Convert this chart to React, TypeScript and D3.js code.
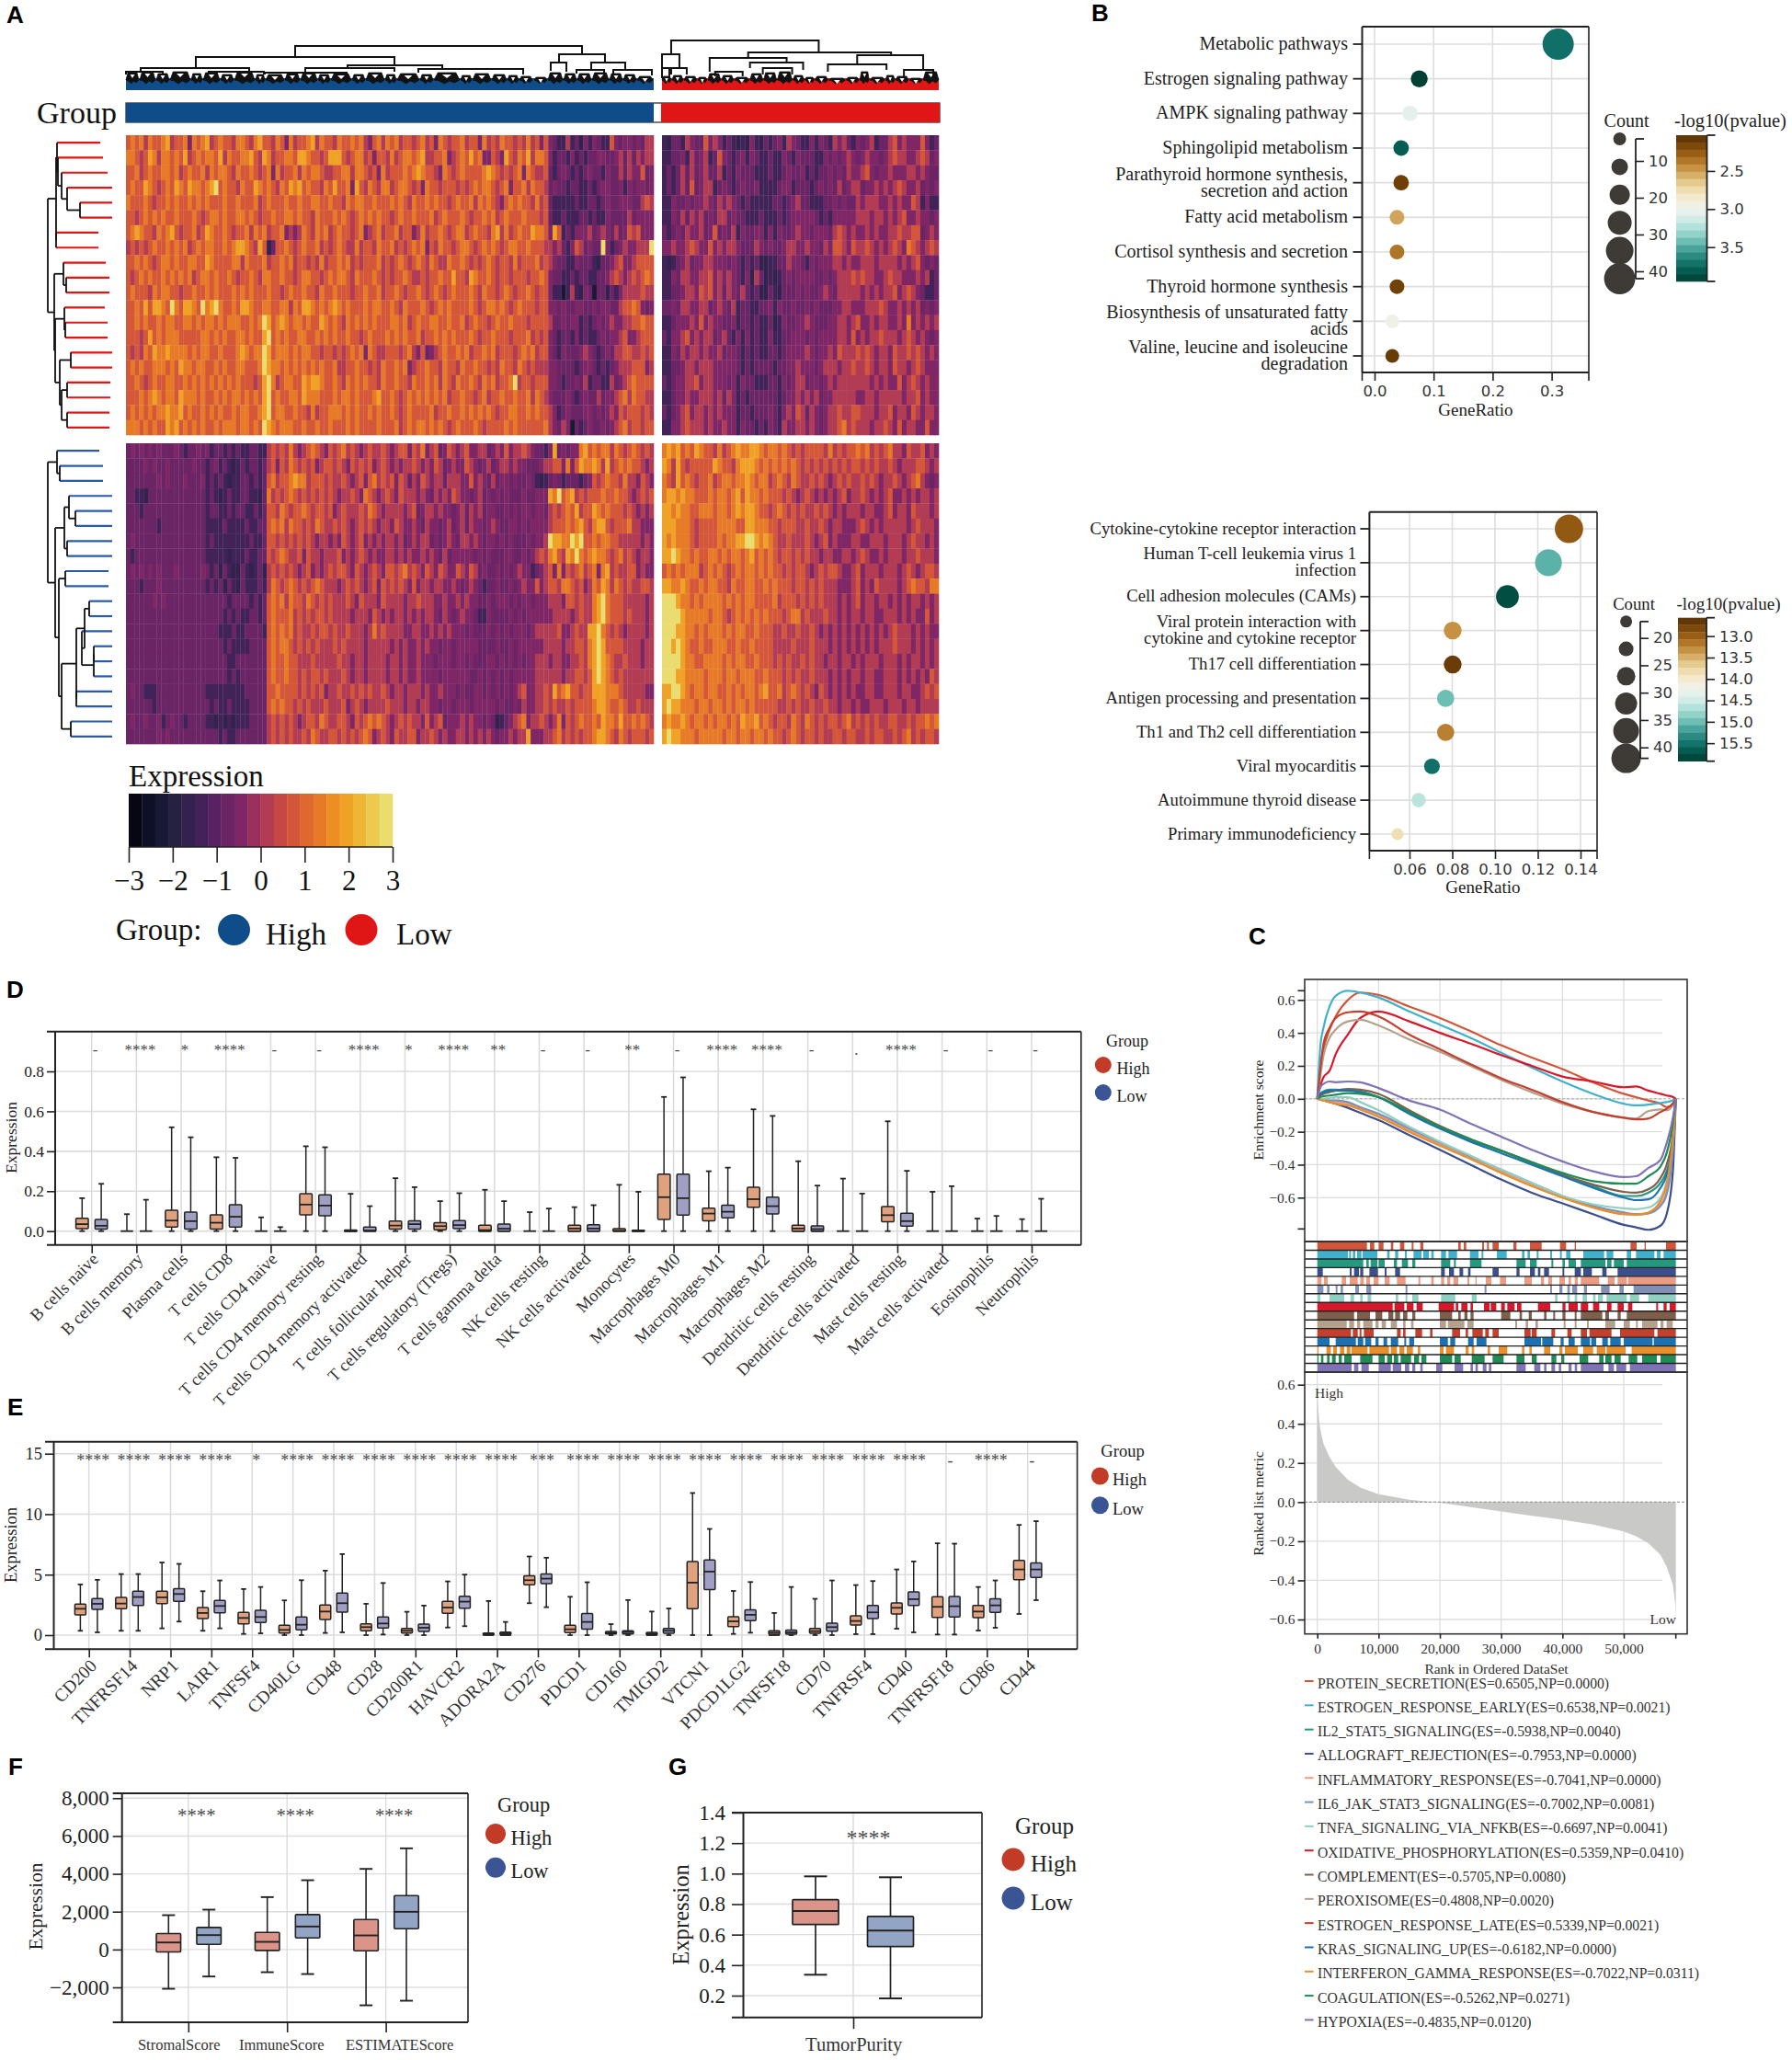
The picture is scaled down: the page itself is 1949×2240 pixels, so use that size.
import { useEffect, useRef } from 'react';
import * as d3 from 'd3';

const SERIF = 'Liberation Serif';
const SANS = 'Liberation Sans';
const DEJA = 'DejaVu Sans';

// ---- panel A: heatmap digits 0 (dark) .. 9 (pale yellow), one string per gene row
const heatLevels = [-2.4, -1.8, -1.3, -0.85, -0.4, 0.1, 0.65, 1.25, 1.95, 2.8];
const heatStops = [-3, -2.4, -2, -1.4, -1, -0.5, 0, 0.6, 1.2, 1.8, 2.3, 3];
const heatColors = ['#03030a', '#11142e', '#24213f', '#3e2359', '#5a2262', '#7b2567', '#a8355a', '#cf4f3e', '#e4702a', '#f0981f', '#eeb935', '#e9e67e'];

const topHigh = [
  '676757667856674767856766577657866576475667857665766767546757675665675647656675664756576656575646'+'432252314243226434434355',
  '776568757767685676776857667786587566776887665688865677564665756776785566745676867446548657685776'+'423324232334433453535455',
  '667567667767567667576776576676567475667576776556677577656475666767876654765676666787656567476556'+'323432323433243353544634',
  '676687656768768776789676657668767657687867665768667486576577567765647665666565676776567466757665'+'343323322323443342434434',
  '766676566767667676766676676667567666766766776676657677667666767657667676656766757676546767665756'+'322222322332343344433565',
  '665676767667666765677676677676566766776766576667676567676766567667666756766676566767567666766656'+'322322233232243333534444',
  '678766576786566756876676566757675667454576576756766567456756675664575667656775676657857567668776'+'486232444534543534656444',
  '565656766767675676776676788765861366765676675656765575665766756567674657665677656767656776676665'+'545324653433942345445559',
  '667676567767667766876666775766675667675665657566767565666756567656765765576676565676566575666756'+'543322433321334564456666',
  '656767667676767567767667656676577667665677665676776576667656566765565667668665876676566566656676'+'433223233223345654565676',
  '676665767766566766767666767676667665676676657667666566766756676566765676567666765766567656676566'+'422025214303313245555655',
  '667686887697688769789766768876677667757688767678767666767766765766676567676666765677676567666566'+'443433443343443356676434',
  '667676676776677676776767776676798678767767668767657676767666776756766776676675676656766766656666'+'533434423234345445566766',
  '666568676777666667767676677676689676766776676767667665676667676766756676767666765667666566675656'+'432332423223434456445666',
  '656576877877776767766766678767798677767677665665656767476556665675463456766767566767566656767566'+'432433345432343556655656',
  '676766777676877677667676677666798776767676767667556676656576676745667665766576676656576657656555'+'443333234432323455566645',
  '667656766776676767676767676665689756776687887667657676766576676657667675765766765767566795665666'+'443233435233225345676666',
  '666767876776877767667676776767689676677687776667677676667866765676767676756676656756676676675765'+'433343234335344567576655',
  '676767677877867667676766767766789677667665756677767676676766765676666756676676767676566776676766'+'542343334434345465666565',
  '777676766878676767667677767767698767776676676676667676666766675676776767656766676566667676666667'+'543540323433434567566566',
];
const topLow = [
  '213325433645423212142132342543224243254532434523356454446423',
  '223342534523643234243223224324333224343454345443456554456534',
  '232353534533523243332223223433423233434354456434454445545433',
  '232353634552343234334222234423332343435345534454545654453434',
  '224334344543545432322222332345332223343433545554454544652422',
  '224353545343553433222322232344444323244444555455454564454434',
  '323435445346343524334424243345443444356545445454455655663454',
  '445445654464545543335434334554454435466546556545456547654565',
  '212345344554443432323112233544324344455454455545555454564343',
  '224355445564545432415312123434444334345556565544565544454523',
  '223345546564535435323113213334343345435555545454556456543223',
  '334355445534543523322334243343343433344554445556544545453434',
  '223444546454433423323223124334454333445545644545544547454545',
  '324456454553453242423224223344434344445546454556555456545434',
  '224354554544534432323223323444454344546555656545546556565454',
  '223345545554444432323333233445444345554556556545546554565444',
  '323445564554443424332223324345534434545555555454544645654544',
  '223445445554535423233333323445454534455555445545555545564544',
  '323456455454544423323334324546535434556556655545564554654554',
  '224456555454454424332324325445545434556756555455654645544644',
];
const bottomHigh = [
  '343434343334323343423323232233225656575456765465675654565565456646574563465456445534546455654332'+'483434478676775765676565',
  '333343433433333433234232123233235646576565645665654656564565454556545465345446543453455454433345'+'566474687787585676766545',
  '333333343433343334232321223323236756678775666565565456467565646535465455355544645435344343343212'+'343233323465676657554654',
  '332213333333333333232123223322137565676565656565455654765456546555454354546544345343434333433444'+'879678565666766766545656',
  '333233333333333333233223233223236657656676566564565556576545555456345545443453545344334343443443'+'565676856687676665654545',
  '333333323333333333222232222322336767576656576556565456565455465445435443453453544345433443434444'+'566676786578865666755444',
  '343333333333333333232222222232236656565656545545465456454545545345455343454355454344343433343445'+'988779896676776655555454',
  '323333333333333333222221222322336567655646554555645456545445545454454543534444434343334433434565'+'786587976787765675654554',
  '343434343334333334323132113212315656565456454565665465456546656756546546544654653433434345442345'+'647465675674785655664544',
  '333233343333333333232313213222325765676565676555456565456465656546455455445434543233433434544645'+'665776564576875765655665',
  '333333434333333333333332333323236767576657656565556546555465555455655544544545443343444343443444'+'555466565578976665555545',
  '333333333333333333333323232233236766675656566565555455546545455454545543543454432243333434344444'+'455554565578976665655545',
  '333333333333333333333222322333326767675655656656556555457565555445544545454443433343434344434555'+'556445655889765654555545',
  '333333333333333333333323222233336767765656565556565555455555454544545443443444443333433434444445'+'555455665789866665555455',
  '333333333333333333333332233333336766766555655555655455455554554544544434443443433344343434344555'+'455445565789876556555455',
  '333333333333333333333332323333336766766565665655565455455554554544544443444444334343434344444555'+'555455665689876565555555',
  '343322233333333333222222222333336676666565656455655656565565455455545445444343344343434345644556'+'586786656688877765555544',
  '333333233333333333323223222233336767665656555655564565455556555455455443443444344444343343544556'+'565565666678876676556555',
  '343343342343323333221212122233335656565456657655665465676765456565546456344454544343123456745565'+'457465676676877686676765',
  '333333343433333333333232233333335656565565765566565656764565465566455654544554545454344545584445'+'567565656678876576566656',
];
const bottomLow = [
  '787867687665756787788767767656566665756566767565675546556454',
  '875865666668766578887676767676565656565656656565565455566545',
  '765867656675677677876775676576556565456565565654556545675434',
  '788787766676776786877676665654565454545645565454564454545545',
  '887877667776776787887665676565655656545455545544564554655545',
  '888777656666777766887776656665565565455444565454555554565554',
  '878777656666767788998787655655565456454445544555455545655454',
  '889877676677676776786767656656565545544554565445455545565554',
  '676767775676765676776767665656654565665445645554555456545665',
  '887787667677665766776676766656656565554445645465555456766577',
  '999877676777767676776666756665656565554545645545545454554545',
  '999987777767765676767676665677565556554545545544555454544645',
  '999887767677767677667666556556556545454545454545456555454544',
  '998987667667776676676666555565556555454545454545556555454545',
  '999987766777767677667666565655656554554554545554555454554545',
  '999887777677767767776676665656556555454545545544555454545465',
  '889987677677667676776786675676565465454545445544555455445656',
  '898877767767767677676666655656556556554554544555455545545555',
  '787787677676776768778676566576576565665675656565566556566767',
  '898877767777767767767767665676566565566566556566556567565665',
];

// dendrogram branches: [left, right, height, left drop, right drop]
const highBranches = [
  [184, 496, 48, 36, 39], [76, 292, 36, 24, 27], [471, 521, 39, 30, 30], [16, 134, 24, 19, 20],
  [241, 344, 27, 23, 23], [195, 292, 24, 20, 20], [462, 479, 30, 21, 20], [506, 543, 30, 22, 22],
  [151, 240, 19, 17, 17], [318, 432, 23, 19, 17], [0, 40, 20, 17, 17], [90, 150, 20, 17, 17],
  [530, 572, 22, 17, 16], [490, 520, 22, 18, 18],
];
const lowBranches = [
  [10, 171, 54, 39, 41], [0, 19, 39, 24, 24], [94, 250, 41, 35, 38], [52, 136, 35, 20, 30],
  [213, 285, 38, 28, 22], [181, 245, 28, 20, 22], [96, 154, 30, 24, 22], [10, 27, 24, 17, 17],
  [0, 8, 24, 13, 13], [264, 296, 22, 14, 12], [58, 88, 20, 15, 15], [110, 142, 24, 17, 17],
];
// small fans along the bottom of the trees: [start, width, height]
const highTwigs = [
  [0,14,19],[15,17,20],[33,14,18],[48,22,20],[71,12,18],[84,18,19],[103,14,17],[118,22,21],[141,10,17],[152,20,17],[173,16,18],[190,18,19],[209,13,17],[223,22,18],[246,14,17],[261,20,19],[282,12,17],[295,24,18],[320,14,17],[335,28,19],[364,12,16],[377,20,18],[398,16,17],[415,12,16],[428,14,15],[444,14,14],[459,16,19],[476,14,18],[491,15,18],[507,18,19],[526,14,18],[541,14,17],[556,17,15],
];
const lowTwigs = [
  [0,10,15],[11,12,16],[24,14,15],[39,10,14],[50,14,18],[65,13,16],[79,16,14],[96,14,18],[111,14,19],[126,16,20],[143,12,16],[156,10,14],[167,14,15],[182,18,13],[201,14,14],[216,10,20],[227,16,14],[244,10,16],[255,14,15],[270,14,13],[285,17,20],
];

// row trees: [branch position, child, child]; a leaf is its end position
type RowNode = number | [number, RowNode, RowNode];
const rowTreeTop: RowNode = [0,
  [9, [10, 57, [11, 60, [15, 65, [21, 70, [35, 70, 70]]]]], [9, 55, 55]],
  [7, [17, 63, [20, 67, 67]], [8, [18, 62, [19, 65, 65]], [13, [25, 70, 70], [15, [21, 68, 68], [21, 67, 67]]]]],
];
const rowTreeBottom: RowNode = [0,
  [10, 56, [13, 60, 60]],
  [8, [18, [23, 70, [30, 70, 70]], [21, 70, 70]],
    [12, [19, 66, 66], [15, [31, [40, [45, 70, 70], [37, 70, [50, [50, 70, 70], 70]]], [31, 70, 70]], [25, 70, 70]]]],
];

const legendTicks = [-3, -2, -1, 0, 1, 2, 3];

// ---- panel B: enrichment dots
const b1Terms = [['Metabolic pathways'], ['Estrogen signaling pathway'], ['AMPK signaling pathway'], ['Sphingolipid metabolism'], ['Parathyroid hormone synthesis,', 'secretion and action'], ['Fatty acid metabolism'], ['Cortisol synthesis and secretion'], ['Thyroid hormone synthesis'], ['Biosynthesis of unsaturated fatty', 'acids'], ['Valine, leucine and isoleucine', 'degradation']];
const b1Ratio = [0.311, 0.0757, 0.06, 0.045, 0.045, 0.038, 0.038, 0.038, 0.03, 0.03];
const b1Count = [42, 9, 7, 7, 7, 6, 6, 6, 5, 5];
const b1Pval = [3.72, 3.93, 3.05, 3.8, 2.12, 2.52, 2.36, 2.13, 2.98, 2.1];
const b2Terms = [['Cytokine-cytokine receptor interaction'], ['Human T-cell leukemia virus 1', 'infection'], ['Cell adhesion molecules (CAMs)'], ['Viral protein interaction with', 'cytokine and cytokine receptor'], ['Th17 cell differentiation'], ['Antigen processing and presentation'], ['Th1 and Th2 cell differentiation'], ['Viral myocarditis'], ['Autoimmune thyroid disease'], ['Primary immunodeficiency']];
const b2Ratio = [0.1346, 0.125, 0.1058, 0.0802, 0.0802, 0.0769, 0.0769, 0.0705, 0.0643, 0.0544];
const b2Count = [43, 40, 33, 25, 25, 24, 24, 22, 20, 17];
const b2Pval = [12.95, 15.08, 15.78, 13.32, 12.7, 15.0, 13.22, 15.52, 14.62, 13.85];

// ---- panel C: GSEA
const esRanks = [0, 500, 1000, 2000, 3000, 5000, 7000, 10000, 15000, 20000, 25000, 30000, 35000, 40000, 45000, 50000, 52000, 54000, 56000, 57000, 58000, 58500];
const gseaNames = ['PROTEIN_SECRETION(ES=0.6505,NP=0.0000)', 'ESTROGEN_RESPONSE_EARLY(ES=0.6538,NP=0.0021)', 'IL2_STAT5_SIGNALING(ES=-0.5938,NP=0.0040)', 'ALLOGRAFT_REJECTION(ES=-0.7953,NP=0.0000)', 'INFLAMMATORY_RESPONSE(ES=-0.7041,NP=0.0000)', 'IL6_JAK_STAT3_SIGNALING(ES=-0.7002,NP=0.0081)', 'TNFA_SIGNALING_VIA_NFKB(ES=-0.6697,NP=0.0041)', 'OXIDATIVE_PHOSPHORYLATION(ES=0.5359,NP=0.0410)', 'COMPLEMENT(ES=-0.5705,NP=0.0080)', 'PEROXISOME(ES=0.4808,NP=0.0020)', 'ESTROGEN_RESPONSE_LATE(ES=0.5339,NP=0.0021)', 'KRAS_SIGNALING_UP(ES=-0.6182,NP=0.0000)', 'INTERFERON_GAMMA_RESPONSE(ES=-0.7022,NP=0.0311)', 'COAGULATION(ES=-0.5262,NP=0.0271)', 'HYPOXIA(ES=-0.4835,NP=0.0120)'];
const gseaColors = ['#d2553a', '#41b1cb', '#24997f', '#3a4f8c', '#ec9c82', '#7f8fb6', '#8fd0c2', '#d9172b', '#7d5f4b', '#b4a18c', '#c2402d', '#1b72b2', '#e78e2d', '#1f8b55', '#8072b6'];
const gseaCurves = [
  [0,.20,.30,.42,.50,.60,.645,.63,.56,.49,.41,.325,.25,.18,.10,.03,.01,-.01,-.03,-.05,-.03,0],
  [0,.32,.43,.56,.625,.655,.645,.615,.53,.45,.37,.28,.19,.105,.03,-.03,-.04,-.035,-.025,-.02,-.01,0],
  [0,.03,.045,.055,.055,.05,.045,.01,-.09,-.18,-.25,-.315,-.39,-.46,-.53,-.59,-.59,-.57,-.51,-.44,-.28,0],
  [0,-.005,-.01,-.02,-.03,-.055,-.085,-.13,-.22,-.31,-.40,-.49,-.57,-.635,-.70,-.765,-.78,-.795,-.77,-.70,-.45,0],
  [0,-.005,-.01,-.02,-.02,-.03,-.06,-.10,-.19,-.275,-.36,-.44,-.52,-.60,-.66,-.70,-.705,-.695,-.64,-.56,-.30,0],
  [0,-.003,-.005,-.01,-.01,-.02,-.05,-.09,-.18,-.265,-.35,-.43,-.51,-.59,-.65,-.69,-.70,-.695,-.65,-.58,-.32,0],
  [0,-.002,0,.005,.01,.01,-.02,-.07,-.17,-.26,-.345,-.43,-.51,-.59,-.64,-.665,-.67,-.66,-.60,-.50,-.25,0],
  [0,.08,.13,.17,.27,.39,.49,.53,.47,.40,.335,.265,.2,.135,.105,.07,.075,.05,.03,.02,.012,0],
  [0,.02,.03,.04,.05,.06,.055,.03,-.07,-.165,-.245,-.315,-.385,-.46,-.52,-.565,-.57,-.55,-.48,-.40,-.22,0],
  [0,.14,.26,.37,.42,.47,.48,.445,.36,.285,.2,.115,.04,-.03,-.08,-.115,-.12,-.075,-.065,-.07,-.04,0],
  [0,.18,.33,.43,.49,.525,.53,.50,.39,.30,.21,.125,.055,-.02,-.08,-.115,-.125,-.12,-.08,-.06,-.03,0],
  [0,.03,.04,.05,.05,.05,.04,.01,-.09,-.18,-.26,-.33,-.40,-.47,-.54,-.6,-.615,-.61,-.54,-.46,-.25,0],
  [0,-.005,-.01,-.02,-.03,-.04,-.065,-.11,-.2,-.285,-.365,-.45,-.53,-.60,-.66,-.7,-.702,-.69,-.62,-.52,-.25,0],
  [0,.01,.015,.02,.025,.035,.03,.01,-.08,-.17,-.245,-.315,-.385,-.45,-.5,-.515,-.515,-.47,-.41,-.33,-.15,0],
  [0,.07,.09,.105,.10,.105,.10,.065,-.01,-.065,-.15,-.23,-.31,-.38,-.44,-.475,-.47,-.42,-.37,-.27,-.12,0],
];
// hit intervals per gene set, in thousands of ranks: start, end, start, end ...
const gseaHits = [
  [0,8.1,8.6,9.3,10,10.8,12,12.4,13.5,14.2,15.4,15.7,16.8,17.3,23,23.4,23.9,24.3,26.9,27.2,27.7,28,28.6,29.6,32,32.5,34.7,36.6,39.6,40.6,42,42.2,51.1,52.1,53.4,53.6,56.9,58.5],
  [0,5,5.2,5.5,5.8,6.2,6.5,7.2,7.4,9.8,11.4,11.8,12.7,13.2,14.3,14.6,15.7,17,17.3,18.2,18.6,19,20.2,21,21.4,22.8,24.9,26.3,26.8,27.1,29.3,30.9,33.4,33.8,34.3,34.7,35.8,36.1,38,38.3,39.6,39.9,40.6,41.3,43.4,46.8,47.2,48.3,50.5,51.2,52,55,55.4,56,56.5,58.5],
  [0,7.5,8,8.4,8.7,9.8,10,11,12.5,13,13.8,14.8,15.5,16,20.2,21.7,22.3,22.6,24.9,26.8,32.5,34,34.7,35.8,38.2,38.5,40,40.4,41,42.2,43,47,47.3,48,48.4,50,50.5,58.5],
  [0,0.9,5.3,5.6,6,6.8,7,7.5,8.5,9.9,11,11.3,12.7,13.5,20.2,20.8,21.5,22.3,23.2,23.8,24.6,25,28.6,29.6,32.5,33,34.7,35.5,36,36.4,37,37.8,40,40.3,42,43,43.4,44.8,46.5,47.2,49,58.5],
  [0,0.7,1.1,1.7,4,4.7,5.3,6.6,7,7.6,8,8.6,9.2,10,11,11.8,13,14.4,16.5,16.8,18.6,19,20.2,20.7,21.2,21.7,22.2,23,24.5,24.8,25.8,26,27.5,28.4,29.8,30.8,33.8,35,36.5,37,37.7,38.3,39.5,40.4,41,41.4,42,42.5,43,46,47.4,48.5,49,50.5,50.7,58.5],
  [0,1,1.6,2,3,3.3,3.8,4.2,6.2,6.8,8,8.8,14.4,14.7,27.3,27.6,38,38.3,39.5,40,40.8,41.2,41.6,42.4,43.5,44,46.3,47.7,49.3,50,51.6,58.5],
  [0,0.5,2,4.4,5.4,6,7,7.4,8.2,8.8,12.8,13.2,14.4,14.7,15.5,16.5,20.2,22.5,25.2,26,38.8,39.2,40.8,41.2,42,42.4,43.3,44,45,45.4,45.8,46.6,47.2,50.5,51,52.5,54,58.5],
  [0,12.3,12.6,14.2,14.6,15.7,16.2,17.2,19.8,22.3,22.6,23,23.5,24.5,25,25.4,27.2,28.1,28.3,29.2,30,30.6,31,32.2,32.6,33.3,36,38,40,40.5,41,42.5,43,44.2,45,46,47.3,48,49,50,50.7,51.4,55.3,55.6,56.5,57,57.5,58.5],
  [0,6,6.5,8.6,9.5,10.6,11.6,12.4,12.7,13.5,14,14.7,15.5,16,20,22,23,23.4,24,24.5,25,25.5,30,31.5,33,33.4,34.5,35,37,37.4,38.5,38.8,40,40.5,42,42.3,43,46.5,47,47.6,49,49.5,50.5,58.5],
  [0,4.8,5.2,6,6.5,7,7.5,9,9.5,10,10.5,11.2,12,13,14,14.4,15.3,15.7,20,21,21.3,24,24.5,25.5,32.3,32.6,34,34.4,35.6,36,40.2,40.5,42,42.3,44,44.3,47,48.6,50,51,52,52.3,53,55.5,56,56.5,57,58],
  [0,5.5,5.8,6.6,6.9,7.2,7.6,9.2,13,13.6,14,14.4,16,17.1,18.4,18.8,22,23.3,24.2,24.6,25.3,27,27.4,28,28.6,29.6,33.8,34.8,35,35.8,38.2,38.8,40.8,41.5,43,44,44.4,48,49.4,55,55.5,58.5],
  [0,2,3,6.3,6.6,7.5,7.8,8.8,9.5,10,10.8,11.4,12,13.2,14.2,14.5,15,15.8,20,21.3,21.7,22.5,24.6,25.5,26,27.6,33.8,36.5,36.7,38.5,39.7,40.2,41,42,43,44.5,44.7,45.5,46.5,47.4,47.8,49.5,50,54.7,54.9,58.5],
  [0,0.2,1.5,2.2,2.6,3.2,3.7,4.4,4.8,5.4,5.6,8.2,8.5,11.7,12,13,13.4,14.2,14.6,15.6,16.4,16.8,20,20.6,21,22.3,24.2,24.7,25.2,25.6,27.8,28.2,29.6,31,33.4,33.8,34.6,35,37,38,39.5,40,40.4,42.5,43.4,45,45.6,47,47.2,50.3,51.3,58.5],
  [0,0.2,0.6,1,1.6,2,2.4,3,3.5,4,4.4,5.6,7,9,10,11,11.4,12.2,12.5,13.2,13.6,15.3,15.8,16.6,17,17.8,20,22,22.4,23.4,25.2,27.3,28.6,30.4,32.5,33.8,35,35.8,38.2,39,39.8,40.3,42.8,44.2,46,46.7,47,48,48.5,49.5,50.8,52.2,53,55.4,56,58.5],
  [0,5.6,6,6.7,7.2,8.4,10,12,12.3,13.7,14.3,15,15.5,16,16.8,17.2,19.4,20.4,22.4,23.8,25,25.4,25.8,26.2,27,27.6,28,28.4,32.5,34,35.4,36.4,37,37.4,38.2,38.8,39.4,39.8,41,41.5,42,42.4,43,46.7,47.5,48.4,48.8,50.4,51,58.5],
];
const metricRanks = [0, 100, 300, 500, 1000, 2000, 3000, 5000, 7000, 10000, 15000, 20000, 25000, 30000, 35000, 40000, 45000, 50000, 52000, 54000, 56000, 57000, 58000, 58400, 58500];
const metricValues = [0.6, 0.5, 0.42, 0.37, 0.3, 0.23, 0.18, 0.115, 0.075, 0.04, 0.012, -0.003, -0.025, -0.048, -0.07, -0.09, -0.115, -0.15, -0.175, -0.21, -0.27, -0.33, -0.42, -0.52, -0.6];

// ---- boxplots: [low whisker, q1, median, q3, high whisker]
type Five = number[];
const dCats = ['B cells naive', 'B cells memory', 'Plasma cells', 'T cells CD8', 'T cells CD4 naive', 'T cells CD4 memory resting', 'T cells CD4 memory activated', 'T cells follicular helper', 'T cells regulatory (Tregs)', 'T cells gamma delta', 'NK cells resting', 'NK cells activated', 'Monocytes', 'Macrophages M0', 'Macrophages M1', 'Macrophages M2', 'Dendritic cells resting', 'Dendritic cells activated', 'Mast cells resting', 'Mast cells activated', 'Eosinophils', 'Neutrophils'];
const dSig = ['-', '****', '*', '****', '-', '-', '****', '*', '****', '**', '-', '-', '**', '-', '****', '****', '-', '.', '****', '-', '-', '-'];
const dHigh: Five[] = [[0,.012,.035,.064,.165],[0,0,0,0,.085],[0,.02,.053,.105,.52],[0,.01,.042,.082,.37],[0,0,0,0,.069],[0,.082,.133,.188,.425],[0,0,0,.005,.187],[0,.01,.028,.05,.265],[0,.007,.025,.042,.15],[0,0,.005,.03,.207],[0,0,0,0,.095],[0,0,.013,.03,.12],[0,0,.002,.012,.232],[0,.058,.17,.285,.672],[0,.052,.088,.115,.30],[0,.12,.16,.22,.61],[0,0,.013,.03,.35],[0,0,0,0,.263],[0,.047,.08,.123,.55],[0,0,0,0,.197],[0,0,0,0,.063],[0,0,0,0,.06]];
const dLow: Five[] = [[0,.01,.027,.058,.237],[0,0,0,0,.157],[0,.01,.05,.095,.47],[0,.02,.072,.132,.367],[0,0,0,0,.02],[0,.077,.128,.182,.42],[0,0,.003,.02,.125],[0,.01,.035,.052,.22],[0,.012,.03,.053,.19],[0,0,.012,.035,.15],[0,0,0,0,.113],[0,0,.013,.032,.13],[0,0,0,.004,.197],[0,.08,.165,.285,.77],[0,.066,.097,.13,.318],[0,.086,.125,.17,.577],[0,0,.01,.026,.228],[0,0,0,0,.188],[0,.025,.05,.09,.302],[0,0,0,0,.225],[0,0,0,0,.076],[0,0,0,0,.162]];

const eCats = ['CD200', 'TNFRSF14', 'NRP1', 'LAIR1', 'TNFSF4', 'CD40LG', 'CD48', 'CD28', 'CD200R1', 'HAVCR2', 'ADORA2A', 'CD276', 'PDCD1', 'CD160', 'TMIGD2', 'VTCN1', 'PDCD1LG2', 'TNFSF18', 'CD70', 'TNFRSF4', 'CD40', 'TNFRSF18', 'CD86', 'CD44'];
const eSig = ['****', '****', '****', '****', '*', '****', '****', '****', '****', '****', '****', '***', '****', '****', '****', '****', '****', '****', '****', '****', '****', '-', '****', '-'];
const eHigh: Five[] = [[.36,1.68,2.18,2.56,4.19],[.36,2.18,2.61,3.12,5.05],[.56,2.61,3.12,3.63,6.0],[.36,1.37,1.83,2.28,3.63],[.1,.94,1.42,1.88,3.81],[0,.18,.43,.81,2.87],[.18,1.29,1.95,2.49,5.33],[0,.36,.66,.94,2.59],[0,.18,.36,.56,1.93],[.63,1.8,2.28,2.79,4.44],[0,.03,.1,.18,2.82],[2.64,4.16,4.54,4.9,6.5],[0,.2,.48,.81,3.17],[0,.1,.2,.3,.91],[0,.03,.13,.23,1.95],[0,2.18,4.34,6.09,11.75],[.1,.71,1.14,1.52,3.65],[0,.05,.2,.36,1.83],[0,.15,.33,.56,3.0],[.08,.84,1.17,1.6,4.14],[.53,1.75,2.26,2.66,5.43],[.05,1.47,2.34,3.17,7.59],[.38,1.45,1.95,2.46,3.98],[1.75,4.59,5.43,6.17,9.11]];
const eLow: Five[] = [[.23,2.13,2.59,3.02,4.57],[.36,2.46,3.15,3.63,5.05],[1.12,2.79,3.4,3.83,5.89],[.56,1.85,2.41,2.87,4.52],[.15,1.04,1.5,2.06,3.98],[0,.43,.86,1.5,4.54],[.23,1.9,2.64,3.48,6.7],[.05,.58,.96,1.5,4.31],[0,.3,.61,.91,2.44],[.74,2.23,2.77,3.22,5.0],[0,.03,.15,.25,1.09],[2.31,4.26,4.67,5.05,6.4],[0,.5,1.09,1.78,4.37],[0,.1,.25,.36,2.9],[0,.15,.36,.56,2.2],[0,3.76,5.25,6.22,8.78],[.2,1.19,1.68,2.1,4.39],[0,.08,.23,.41,3.98],[0,.33,.66,.99,4.52],[.08,1.37,1.88,2.46,4.47],[.23,2.46,2.97,3.58,6.09],[.05,1.5,2.39,3.2,7.56],[.61,1.88,2.46,3.0,4.52],[2.89,4.77,5.43,5.96,9.42]];

const fCats = ['StromalScore', 'ImmuneScore', 'ESTIMATEScore'];
const fSig = ['****', '****', '****'];
const fHigh: Five[] = [[-2075,-130,373,843,1815],[-1200,-50,405,908,2770],[-2950,-65,745,1588,4262]];
const fLow: Five[] = [[-1426,275,762,1167,2107],[-1297,616,1215,1848,3663],[-2707,1102,1994,2852,5348]];
const gCats = ['TumorPurity'];
const gSig = ['****'];
const gHigh: Five[] = [[.337,.666,.755,.829,.982]];
const gLow: Five[] = [[.182,.522,.626,.719,.976]];

const panelLetters: [string, number, number][] = [['A', 7, 25], ['B', 1187, 23], ['C', 1358, 1027], ['D', 7, 1085], ['E', 8, 1539], ['F', 9, 1930], ['G', 727, 1930]];

type Sel = d3.Selection<any, any, any, any>;

function txt(g: Sel, x: number, y: number, s: string, size: number, opt: any = {}) {
  return g.append('text').attr('x', x).attr('y', y).text(s)
    .attr('font-family', opt.font ?? SERIF).attr('font-size', size)
    .attr('fill', opt.fill ?? '#222')
    .attr('font-weight', opt.weight ?? 'normal')
    .attr('text-anchor', opt.anchor ?? 'start')
    .attr('dominant-baseline', opt.base ?? 'central');
}

function vtxt(g: Sel, x: number, y: number, s: string, size: number) {
  g.append('text').attr('transform', `translate(${x},${y}) rotate(-90)`).text(s)
    .attr('font-family', SERIF).attr('font-size', size).attr('fill', '#222')
    .attr('text-anchor', 'middle').attr('dominant-baseline', 'central');
}

function frame(g: Sel, l: number, r: number, t: number, b: number, ext: number, w = 2) {
  const line = (x1: number, y1: number, x2: number, y2: number, sw = w) =>
    g.append('line').attr('x1', x1).attr('y1', y1).attr('x2', x2).attr('y2', y2).attr('stroke', '#222').attr('stroke-width', sw);
  line(l - ext, t, r, t); line(l - ext, b, r, b); line(l, t, l, b); line(r, t, r, b, 1.6);
}

function styleAxis(a: Sel, size: number, font = SERIF, col = '#222') {
  a.select('.domain').remove();
  a.selectAll('line').attr('stroke', '#222').attr('stroke-width', 1.6);
  a.selectAll('text').attr('font-family', font).attr('font-size', size).attr('fill', col);
}

function heatBlock(g: Sel, rows: string[], x0: number, x1: number, y0: number, y1: number, color: (v: number) => string) {
  const rowY = d3.scaleBand<number>().domain(d3.range(rows.length)).range([y0, y1]);
  rows.forEach((row, i) => {
    const colX = d3.scaleBand<number>().domain(d3.range(row.length)).range([x0, x1]);
    g.append('g').selectAll('rect').data(row.split('')).enter().append('rect')
      .attr('x', (_, j) => colX(j)!).attr('y', rowY(i)!)
      .attr('width', colX.bandwidth() + 0.3).attr('height', rowY.bandwidth() + 0.3)
      .attr('fill', (d) => color(heatLevels[+d]));
  });
}

function colTree(g: Sel, branches: number[][], twigs: number[][], x0: number, x1: number, domainMax: number, col: string) {
  const x = d3.scaleLinear().domain([0, domainMax]).range([x0, x1]);
  const y = d3.scaleLinear().domain([0, 55]).range([98, 43]);
  g.append('rect').attr('x', x0).attr('y', y(13)).attr('width', x1 - x0).attr('height', y(0) - y(13)).attr('fill', col);
  twigs.forEach(([s, w, h]) => {
    // a clump of leaves: black hump with a jagged foot and a small white gap under its top
    const a = x(s), b = x(s + w), yt = y(Math.min(h, 20)), foot = y(8);
    const hump = `M${a},${y(11)}L${a + 0.15 * (b - a)},${yt}L${a + 0.85 * (b - a)},${yt}L${b},${y(11)}L${a + 0.8 * (b - a)},${foot}L${a + 0.6 * (b - a)},${y(10)}L${a + 0.4 * (b - a)},${y(7)}L${a + 0.2 * (b - a)},${y(10)}Z`;
    g.append('path').attr('d', hump).attr('fill', '#111').attr('stroke', '#111').attr('stroke-width', 0.8);
    g.append('path').attr('d', `M${a + 0.32 * (b - a)},${yt + 2}L${a + 0.68 * (b - a)},${yt + 2}L${(a + b) / 2},${yt + 6}Z`).attr('fill', '#fff');
  });
  branches.forEach(([l, r, h, dl, dr]) => {
    g.append('path').attr('d', `M${x(l)},${y(dl)}L${x(l)},${y(h)}L${x(r)},${y(h)}L${x(r)},${y(dr)}`)
      .attr('fill', 'none').attr('stroke', '#111').attr('stroke-width', 2);
  });
}

function rowTree(g: Sel, tree: RowNode, x0: number, y0: number, y1: number, col: string) {
  const x = d3.scaleLinear().domain([0, 70]).range([x0, x0 + 70]);
  const n = 20;
  const y = d3.scaleBand<number>().domain(d3.range(n)).range([y0, y1]);
  let leaf = 0;
  const walk = (node: RowNode, parent: number): number => {
    if (typeof node === 'number') {
      const yy = y(leaf++)! + y.bandwidth() / 2;
      g.append('line').attr('x1', x(parent)).attr('x2', x(node)).attr('y1', yy).attr('y2', yy).attr('stroke', col).attr('stroke-width', 2.2);
      return yy;
    }
    const [p, a, b] = node;
    const ya = walk(a, p);
    const yb = walk(b, p);
    g.append('line').attr('x1', x(p)).attr('x2', x(p)).attr('y1', ya).attr('y2', yb).attr('stroke', '#111').attr('stroke-width', 1.8);
    const m = (ya + yb) / 2;
    g.append('line').attr('x1', x(parent)).attr('x2', x(p)).attr('y1', m).attr('y2', m).attr('stroke', '#111').attr('stroke-width', 1.8);
    return m;
  };
  walk(tree, (tree as any)[0]);
}

function dotPanel(svg: Sel, p: any) {
  const g = svg.append('g');
  const x = d3.scaleLinear().domain(p.xDomain).range(p.xRange);
  const y = d3.scalePoint<number>().domain(d3.range(p.terms.length)).range(p.yRange);
  const grid = '#dedede';
  p.xTicks.forEach((t: number) => g.append('line').attr('x1', x(t)).attr('x2', x(t)).attr('y1', p.top).attr('y2', p.bottom).attr('stroke', grid).attr('stroke-width', 1.6));
  p.terms.forEach((_: any, i: number) => g.append('line').attr('x1', p.left).attr('x2', p.right).attr('y1', y(i)!).attr('y2', y(i)!).attr('stroke', grid).attr('stroke-width', 1.6));
  frame(g, p.left, p.right, p.top, p.bottom, 0);
  const ax = g.append('g').attr('transform', `translate(0,${p.bottom})`).call(d3.axisBottom(x).tickValues(p.xTicks).tickFormat(d3.format(p.xFmt) as any).tickSize(9).tickPadding(5) as any);
  styleAxis(ax, 16.5, DEJA, '#333');
  [p.left, p.right].forEach((v: number) => g.append('line').attr('x1', v).attr('x2', v).attr('y1', p.bottom).attr('y2', p.bottom + 9).attr('stroke', '#222').attr('stroke-width', 1.6));
  p.terms.forEach((t: string[], i: number) => {
    g.append('line').attr('x1', p.left - 10).attr('x2', p.left).attr('y1', y(i)!).attr('y2', y(i)!).attr('stroke', '#222').attr('stroke-width', 1.8);
    t.forEach((ln, k) => txt(g, p.labelX, y(i)! - 1 + (t.length > 1 ? (k === 0 ? -9 : 9) : 0), ln, p.labelFont, { anchor: 'end' }));
  });
  const cScale = d3.scaleLinear().domain(p.cDomain).range([0, 1]);
  const color = (v: number) => d3.interpolateBrBG(cScale(v));
  const r = d3.scaleSqrt().domain(p.countDomain).range(p.rRange);
  g.selectAll('circle.dot').data(p.ratio as number[]).enter().append('circle').attr('class', 'dot')
    .attr('cx', (d) => x(d)).attr('cy', (_, i) => y(i)!).attr('r', (_, i) => r(p.count[i]))
    .attr('fill', (_, i) => color(p.pval[i]));
  txt(g, p.xLabelX, p.xLabelY - 1, 'GeneRatio', 19, { anchor: 'middle' });

  // size legend
  txt(g, p.countX, p.legTop - 1, 'Count', p.labelFont, { anchor: 'middle' });
  txt(g, p.pX, p.legTop - 1, '-log10(pvalue)', p.pFont, { anchor: 'middle' });
  const ly = d3.scaleLinear().domain(p.countAxisDomain).range(p.countAxisRange);
  p.legCounts.forEach((c: number, i: number) => g.append('circle').attr('cx', p.legCx).attr('cy', ly(c)).attr('r', p.legR[i]).attr('fill', '#3e3a36'));
  const la = g.append('g').attr('transform', `translate(${p.legAxisX},0)`).call(d3.axisRight(ly).tickValues(p.countTicks).tickSize(9).tickPadding(5) as any);
  styleAxis(la, 16.5, DEJA, '#333');
  g.append('line').attr('x1', p.legAxisX).attr('x2', p.legAxisX).attr('y1', ly(p.legCounts[0])).attr('y2', ly(p.legCounts[5])).attr('stroke', '#222').attr('stroke-width', 1.8);
  [ly(p.legCounts[0]), ly(p.legCounts[5])].forEach((v) => g.append('line').attr('x1', p.legAxisX).attr('x2', p.legAxisX + 9).attr('y1', v).attr('y2', v).attr('stroke', '#222').attr('stroke-width', 1.8));

  // colour bar
  const cy = d3.scaleLinear().domain(p.cDomain).range(p.barRange);
  const bins = d3.range(20);
  const by = d3.scaleBand<number>().domain(bins).range(p.barRange);
  g.append('g').selectAll('rect').data(bins).enter().append('rect')
    .attr('x', p.barX).attr('width', p.barW).attr('y', (d) => by(d)!).attr('height', by.bandwidth() + 0.3)
    .attr('fill', (d) => d3.interpolateBrBG((d + 0.5) / 20));
  const ca = g.append('g').attr('transform', `translate(${p.barX + p.barW},0)`).call(d3.axisRight(cy).tickValues(p.cTicks).tickFormat(d3.format('.1f') as any).tickSize(9).tickPadding(5) as any);
  styleAxis(ca, 16.5, DEJA, '#333');
  const bx = p.barX + p.barW;
  g.append('line').attr('x1', bx).attr('x2', bx).attr('y1', p.barRange[0]).attr('y2', p.barRange[1]).attr('stroke', '#222').attr('stroke-width', 1.8);
  p.barRange.forEach((v: number) => g.append('line').attr('x1', bx).attr('x2', bx + 9).attr('y1', v).attr('y2', v).attr('stroke', '#222').attr('stroke-width', 1.8));
}

function boxPanel(svg: Sel, p: any) {
  const g = svg.append('g');
  const x = d3.scalePoint<string>().domain(p.cats).range(p.xRange);
  const y = d3.scaleLinear().domain(p.yDomain).range(p.yRange);
  const grid = '#dcdcdc';
  p.yTicks.forEach((t: number) => g.append('line').attr('x1', p.left).attr('x2', p.right).attr('y1', y(t)).attr('y2', y(t)).attr('stroke', grid).attr('stroke-width', p.gridW ?? 1.6));
  p.cats.forEach((c: string) => g.append('line').attr('x1', x(c)!).attr('x2', x(c)!).attr('y1', p.top).attr('y2', p.bottom).attr('stroke', grid).attr('stroke-width', p.gridW ?? 1.6));
  const ya = g.append('g').attr('transform', `translate(${p.left},0)`).call(d3.axisLeft(y).tickValues(p.yTicks).tickFormat(d3.format(p.yFmt) as any).tickSize(p.ext).tickPadding(p.pad ?? 3) as any);
  styleAxis(ya, p.tickFont);
  const xa = g.append('g').attr('transform', `translate(0,${p.bottom})`).call(d3.axisBottom(x).tickSize(p.xTick).tickFormat(() => '') as any);
  styleAxis(xa, 1);
  frame(g, p.left, p.right, p.top, p.bottom, p.ext);
  const whisker = (v: Five, c: string, off: number, fill: string) => {
    const cx = x(c)! + off;
    g.append('line').attr('x1', cx).attr('x2', cx).attr('y1', y(v[0])).attr('y2', y(v[4])).attr('stroke', '#222').attr('stroke-width', p.sw);
    const flat = y(v[0]) - y(v[1]) < 1;
    [v[0], v[4]].forEach((e, i) => {
      const hw = i === 0 && flat ? p.boxW / 2 : p.capW / 2;
      g.append('line').attr('x1', cx - hw).attr('x2', cx + hw).attr('y1', y(e)).attr('y2', y(e)).attr('stroke', '#222').attr('stroke-width', p.sw + 0.3);
    });
    if (v[3] > v[0]) {
      g.append('rect').attr('x', cx - p.boxW / 2).attr('width', p.boxW).attr('y', y(v[3])).attr('height', y(v[1]) - y(v[3]))
        .attr('rx', 1).attr('fill', fill).attr('stroke', '#222').attr('stroke-width', p.sw);
      g.append('line').attr('x1', cx - p.boxW / 2).attr('x2', cx + p.boxW / 2).attr('y1', y(v[2])).attr('y2', y(v[2])).attr('stroke', '#222').attr('stroke-width', p.sw + 0.3);
    }
  };
  p.cats.forEach((c: string, i: number) => {
    whisker(p.high[i], c, p.offH, p.fillH);
    whisker(p.low[i], c, p.offL, p.fillL);
    txt(g, x(c)! + p.sigDx, p.sigY, p.sig[i], p.sigFont, { anchor: 'middle', base: 'alphabetic', fill: '#444' }).attr('opacity', 0.97);
    if (p.rotate) {
      g.append('text').attr('transform', `translate(${x(c)! + p.labDx},${p.labY}) rotate(-45)`).text(c)
        .attr('font-family', SERIF).attr('font-size', p.labFont).attr('fill', '#333').attr('text-anchor', 'end').attr('dominant-baseline', 'central');
    } else {
      txt(g, x(c)! + p.labShift[i], p.labY, c, p.labFont, { anchor: 'middle', fill: '#333' });
    }
  });
  vtxt(g, p.yLabX, p.yLabY, 'Expression', p.yLabFont);
  txt(g, p.legX, p.legY[0], 'Group', p.legFont, { anchor: 'middle' });
  g.append('circle').attr('cx', p.legCx).attr('cy', p.legY[1]).attr('r', p.legR).attr('fill', '#c13b26');
  g.append('circle').attr('cx', p.legCx).attr('cy', p.legY[2]).attr('r', p.legR).attr('fill', '#3b5494');
  txt(g, p.legTx, p.legY[1] + 4, 'High', p.legFont);
  txt(g, p.legTx, p.legY[2] + 4, 'Low', p.legFont);
}

export default function App() {
  const ref = useRef<SVGSVGElement>(null);

  useEffect(() => {
    if (!ref.current) return;
    const svg = d3.select(ref.current);
    svg.selectAll('*').remove();
    svg.append('rect').attr('width', 1949).attr('height', 2240).attr('fill', '#fff');

    panelLetters.forEach(([s, x, y]) => txt(svg, x, y, s, 26, { font: SANS, weight: 'bold', fill: '#000', base: 'alphabetic' }));

    // ---- A: heatmap
    const a = svg.append('g');
    const heat20 = d3.scaleLinear<string>().domain(heatStops).range(heatColors).interpolate(d3.interpolateRgb);
    const quant = d3.scaleQuantize<string>().domain([-3, 3]).range(d3.range(20).map((i) => heat20(-3 + (i + 0.5) * 0.3)));
    colTree(a, highBranches, highTwigs, 137, 711, 574, '#0f4c8a');
    colTree(a, lowBranches, lowTwigs, 720, 1021, 302, '#e01616');
    txt(a, 40, 122, 'Group', 34, { fill: '#111' });
    a.append('rect').attr('x', 137).attr('y', 112).attr('width', 885).attr('height', 21).attr('fill', '#fff').attr('stroke', '#222').attr('stroke-width', 1.2);
    a.append('rect').attr('x', 137).attr('y', 112).attr('width', 574).attr('height', 21).attr('fill', '#0f4c8a');
    a.append('rect').attr('x', 719).attr('y', 112).attr('width', 303).attr('height', 21).attr('fill', '#e01616');
    heatBlock(a, topHigh, 137, 711, 147, 473, quant);
    heatBlock(a, topLow, 720, 1021, 147, 473, quant);
    heatBlock(a, bottomHigh, 137, 711, 482, 809, quant);
    heatBlock(a, bottomLow, 720, 1021, 482, 809, quant);
    rowTree(a, rowTreeTop, 52, 147, 473, '#e01616');
    rowTree(a, rowTreeBottom, 52, 482, 809, '#2a5aa8');

    txt(a, 140, 844, 'Expression', 33, { fill: '#111' });
    const lx = d3.scaleLinear().domain([-3, 3]).range([140, 427]);
    a.append('g').selectAll('rect').data(d3.range(20)).enter().append('rect')
      .attr('x', (d) => lx(-3 + d * 0.3)).attr('y', 863).attr('width', lx(-2.7) - lx(-3) + 0.3).attr('height', 58)
      .attr('fill', (d) => quant(-3 + (d + 0.5) * 0.3));
    const la = a.append('g').attr('transform', 'translate(0,921)').call(d3.axisBottom(lx).tickValues(legendTicks).tickSize(17).tickPadding(8).tickFormat(d3.format('d') as any) as any);
    styleAxis(la, 31, SERIF, '#111');
    a.append('line').attr('x1', 140).attr('x2', 427).attr('y1', 921).attr('y2', 921).attr('stroke', '#222').attr('stroke-width', 1.6);
    txt(a, 126, 1011, 'Group:', 33, { fill: '#111' });
    a.append('ellipse').attr('cx', 254.5).attr('cy', 1011).attr('rx', 17.5).attr('ry', 17).attr('fill', '#0f4c8a');
    txt(a, 289, 1016, 'High', 33, { fill: '#111' });
    a.append('ellipse').attr('cx', 393).attr('cy', 1011).attr('rx', 17.5).attr('ry', 17).attr('fill', '#e01616');
    txt(a, 431, 1016, 'Low', 33, { fill: '#111' });

    // ---- B: enrichment
    dotPanel(svg, {
      terms: b1Terms, ratio: b1Ratio, count: b1Count, pval: b1Pval, labelFont: 20, pFont: 20.5,
      xDomain: [0, 0.3], xRange: [1495, 1687.6], xTicks: [0, 0.1, 0.2, 0.3], xFmt: '.1f',
      yRange: [48, 387], left: 1481.5, right: 1728, top: 29, bottom: 405, labelX: 1466,
      cDomain: [2.03, 3.95], countDomain: [4, 42], rRange: [7, 17],
      xLabelX: 1605, xLabelY: 446, countX: 1769, pX: 1882, legTop: 132,
      countAxisDomain: [10, 40], countAxisRange: [175, 295], legCounts: [4, 11.6, 19.2, 26.8, 34.4, 42], legR: [7, 9, 11, 13, 15, 17],
      legCx: 1761.6, legAxisX: 1779, countTicks: [10, 20, 30, 40],
      barX: 1823, barW: 33.5, barRange: [147, 306], cTicks: [2.5, 3.0, 3.5],
    });
    dotPanel(svg, {
      terms: b2Terms, ratio: b2Ratio, count: b2Count, pval: b2Pval, labelFont: 18.7, pFont: 19,
      xDomain: [0.06, 0.14], xRange: [1533, 1719], xTicks: [0.06, 0.08, 0.1, 0.12, 0.14], xFmt: '.2f',
      yRange: [575, 907], left: 1489.4, right: 1737, top: 556.7, bottom: 925, labelX: 1475,
      cDomain: [12.57, 15.92], countDomain: [17, 43], rRange: [6.5, 15.4],
      xLabelX: 1613, xLabelY: 965, countX: 1777, pX: 1880, legTop: 657,
      countAxisDomain: [20, 40], countAxisRange: [693.7, 812.7], legCounts: [17, 22, 27, 32, 37, 42], legR: [6.5, 8, 10, 12, 14, 16],
      legCx: 1768.6, legAxisX: 1784, countTicks: [20, 25, 30, 35, 40],
      barX: 1825, barW: 31, barRange: [671.7, 827.7], cTicks: [13, 13.5, 14, 14.5, 15, 15.5],
    });

    // ---- C: GSEA
    const c = svg.append('g');
    const cx = d3.scaleLinear().domain([0, 50000]).range([1432.7, 1766]);
    const esY = d3.scaleLinear().domain([-0.6, 0.6]).range([1302.3, 1087.3]);
    const mY = d3.scaleLinear().domain([-0.6, 0.6]).range([1761, 1505.7]);
    const gridC = '#dedede';
    const xTicksC = [0, 10000, 20000, 30000, 40000, 50000];
    const esTicks = [-0.6, -0.4, -0.2, 0, 0.2, 0.4, 0.6];
    const sides = [[esY, 1065, 1350], [mY, 1492, 1776.7]] as const;
    sides.forEach(([yy, t, b]) => {
      esTicks.forEach((v) => c.append('line').attr('x1', 1419).attr('x2', 1808).attr('y1', yy(v)).attr('y2', yy(v)).attr('stroke', gridC).attr('stroke-width', 1.3));
      xTicksC.forEach((v) => c.append('line').attr('x1', cx(v)).attr('x2', cx(v)).attr('y1', t).attr('y2', b).attr('stroke', gridC).attr('stroke-width', 1.3));
      c.append('line').attr('x1', 1419).attr('x2', 1835).attr('y1', yy(0)).attr('y2', yy(0)).attr('stroke', '#aaa').attr('stroke-dasharray', '3,2');
    });
    const line = d3.line<number>().x((_, i) => cx(esRanks[i])).y((d) => esY(d)).curve(d3.curveMonotoneX);
    gseaCurves.forEach((vals, i) => {
      c.append('path').attr('d', line(vals)).attr('fill', 'none').attr('stroke', gseaColors[i]).attr('stroke-width', 2.2);
    });
    const area = d3.area<number>().x((_, i) => cx(metricRanks[i])).y0(mY(0)).y1((d) => mY(d)).curve(d3.curveLinear);
    c.append('path').attr('d', area(metricValues)).attr('fill', '#c9c9c7');
    c.append('line').attr('x1', 1419).attr('x2', 1835).attr('y1', mY(0)).attr('y2', mY(0)).attr('stroke', '#999').attr('stroke-dasharray', '3,2');

    const trackY = d3.scaleBand<number>().domain(d3.range(15)).range([1350, 1492]);
    gseaHits.forEach((hits, i) => {
      const pairs = d3.range(0, hits.length, 2);
      c.append('g').selectAll('rect').data(pairs).enter().append('rect')
        .attr('x', (d) => cx(hits[d] * 1000)).attr('width', (d) => cx(hits[d + 1] * 1000) - cx(hits[d] * 1000))
        .attr('y', trackY(i)!).attr('height', trackY.bandwidth()).attr('fill', gseaColors[i]);
    });
    d3.range(16).forEach((i) => {
      const yy = 1350 + i * trackY.bandwidth();
      c.append('line').attr('x1', 1419).attr('x2', 1835).attr('y1', yy).attr('y2', yy).attr('stroke', '#222').attr('stroke-width', 1.4);
    });
    [[1065, 1350], [1350, 1492], [1492, 1776.7]].forEach(([t, b]) => {
      c.append('rect').attr('x', 1419).attr('y', t).attr('width', 416).attr('height', b - t).attr('fill', 'none').attr('stroke', '#333').attr('stroke-width', 1.6);
    });
    const esAxis = c.append('g').attr('transform', 'translate(1419,0)').call(d3.axisLeft(esY).tickValues(esTicks).tickSize(7.5).tickPadding(3).tickFormat(d3.format('.1f') as any) as any);
    styleAxis(esAxis, 15.5, SERIF, '#333');
    [0.656, -0.79].forEach((v) => c.append('line').attr('x1', 1411.5).attr('x2', 1419).attr('y1', esY(v)).attr('y2', esY(v)).attr('stroke', '#222').attr('stroke-width', 1.6));
    const mAxis = c.append('g').attr('transform', 'translate(1419,0)').call(d3.axisLeft(mY).tickValues(esTicks).tickSize(7.5).tickPadding(3).tickFormat(d3.format('.1f') as any) as any);
    styleAxis(mAxis, 15.5, SERIF, '#333');
    const rAxis = c.append('g').attr('transform', 'translate(0,1776.7)').call(d3.axisBottom(cx).tickValues(xTicksC).tickSize(5).tickPadding(5).tickFormat(d3.format(',') as any) as any);
    styleAxis(rAxis, 15.5, SERIF, '#333');
    c.append('line').attr('x1', cx(58500)).attr('x2', cx(58500)).attr('y1', 1776.7).attr('y2', 1781.7).attr('stroke', '#222').attr('stroke-width', 1.6);
    vtxt(c, 1368, 1207, 'Enrichment score', 15.5);
    vtxt(c, 1368, 1635, 'Ranked list metric', 15.5);
    txt(c, 1430, 1514, 'High', 15.5, { fill: '#333' });
    txt(c, 1823, 1760, 'Low', 15.5, { anchor: 'end', fill: '#333' });
    txt(c, 1627.5, 1814.5, 'Rank in Ordered DataSet', 15.5, { anchor: 'middle', fill: '#333' });
    const legY = d3.scalePoint<number>().domain(d3.range(15)).range([1830, 2198.4]);
    gseaNames.forEach((n, i) => {
      c.append('line').attr('x1', 1419).attr('x2', 1428.6).attr('y1', legY(i)! - 2).attr('y2', legY(i)! - 2).attr('stroke', gseaColors[i]).attr('stroke-width', 2);
      txt(c, 1433, legY(i)!, n, 15.7, { fill: '#333' });
    });

    // ---- D-G: boxplots
    const rowFill = { fillH: '#e0a27e', fillL: '#9f9fc4' };
    boxPanel(svg, {
      cats: dCats, high: dHigh, low: dLow, sig: dSig, ...rowFill, rotate: true,
      xRange: [99.7, 1122], yDomain: [0, 0.8], yRange: [1338.7, 1165], yTicks: [0, 0.2, 0.4, 0.6, 0.8], yFmt: '.1f',
      left: 60, right: 1175.8, top: 1121.7, bottom: 1353.7, ext: 9, xTick: 9, tickFont: 17.5, sw: 1.5,
      offH: -10.4, offL: 10.4, boxW: 13.5, capW: 6, sigDx: 4, sigY: 1147, sigFont: 17,
      labDx: 4, labY: 1366, labFont: 18.5, yLabX: 11.7, yLabY: 1237, yLabFont: 17.6,
      legX: 1226, legY: [1131.7, 1158, 1188], legFont: 18, legCx: 1199.8, legR: 9, legTx: 1214.5,
    });
    boxPanel(svg, {
      cats: eCats, high: eHigh, low: eLow, sig: eSig, ...rowFill, rotate: true,
      xRange: [96.7, 1117.7], yDomain: [0, 15], yRange: [1778, 1580.7], yTicks: [0, 5, 10, 15], yFmt: 'd',
      left: 58.5, right: 1171.6, top: 1567.7, bottom: 1793.3, ext: 9.5, xTick: 9, tickFont: 18.5, sw: 1.5,
      offH: -9.3, offL: 9.2, boxW: 12, capW: 5.5, sigDx: 4.5, sigY: 1594, sigFont: 18,
      labDx: 5, labY: 1808, labFont: 19.5, yLabX: 11.7, yLabY: 1680, yLabFont: 18.5,
      legX: 1221, legY: [1577.7, 1605, 1636.7], legFont: 18.5, legCx: 1196.4, legR: 9.5, legTx: 1210,
    });
    const scoreFill = { fillH: '#da948a', fillL: '#93a5c5' };
    boxPanel(svg, {
      cats: fCats, high: fHigh, low: fLow, sig: fSig, ...scoreFill, rotate: false,
      xRange: [204.8, 419.6], yDomain: [-2000, 8000], yRange: [2161, 1955.3], yTicks: [-2000, 0, 2000, 4000, 6000, 8000], yFmt: ',d',
      left: 132.7, right: 509, top: 1950, bottom: 2199, ext: 10, xTick: 11, tickFont: 23, sw: 1.6, pad: 4, gridW: 1.4,
      offH: -21.5, offL: 22.4, boxW: 26.5, capW: 14, sigDx: 9, sigY: 1981, sigFont: 20.7,
      labShift: [-10, -6, 15], labY: 2223, labFont: 16.5, yLabX: 39, yLabY: 2073, yLabFont: 21.4,
      legX: 569.6, legY: [1962.7, 1994, 2030.7], legFont: 22.4, legCx: 539, legR: 11, legTx: 555.5,
    });
    boxPanel(svg, {
      cats: gCats, high: gHigh, low: gLow, sig: gSig, ...scoreFill, rotate: false,
      xRange: [928, 928], yDomain: [0.2, 1.4], yRange: [2170, 1971], yTicks: [0.2, 0.4, 0.6, 0.8, 1.0, 1.2, 1.4], yFmt: '.1f',
      left: 808.5, right: 1068, top: 1971, bottom: 2193.7, ext: 12.5, xTick: 12.5, tickFont: 23, sw: 1.7, pad: 7, gridW: 1.4,
      offH: -41, offL: 40.5, boxW: 50, capW: 25, sigDx: 16.5, sigY: 2006, sigFont: 24,
      labShift: [0.7], labY: 2222.7, labFont: 20.5, yLabX: 740, yLabY: 2082, yLabFont: 24.7,
      legX: 1136, legY: [1985.7, 2022, 2064], legFont: 25, legCx: 1102, legR: 12.5, legTx: 1121,
    });
  }, []);

  return <svg ref={ref} width={1949} height={2240} style={{ position: 'absolute', left: 0, top: 0 }} />;
}
